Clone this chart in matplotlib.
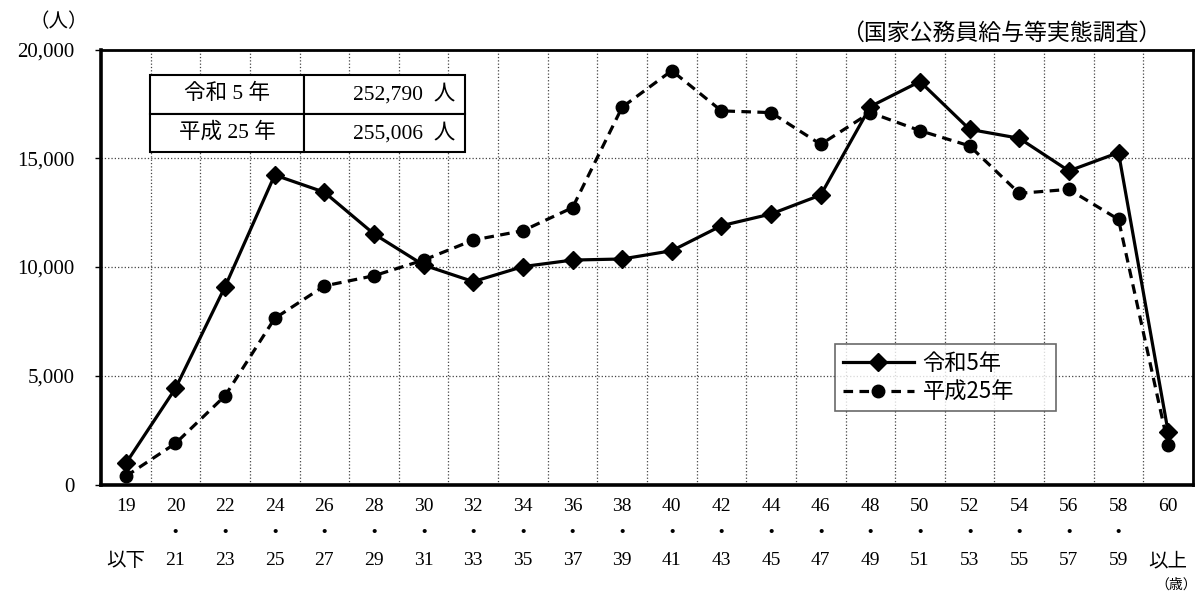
import numpy as np
import matplotlib.pyplot as plt
from matplotlib.ticker import FixedLocator

plt.rcParams['font.family'] = ['Liberation Serif', 'Noto Sans CJK JP']

# age groups
age_labels = ['19\n\n以下', '20\n・\n21', '22\n・\n23', '24\n・\n25', '26\n・\n27',
              '28\n・\n29', '30\n・\n31', '32\n・\n33', '34\n・\n35', '36\n・\n37',
              '38\n・\n39', '40\n・\n41', '42\n・\n43', '44\n・\n45', '46\n・\n47',
              '48\n・\n49', '50\n・\n51', '52\n・\n53', '54\n・\n55', '56\n・\n57',
              '58\n・\n59', '60\n\n以上']

# 令和5年
reiwa5 = [970, 4420, 9100, 14230, 13440, 11520, 10090, 9330, 10020, 10320, 10370,
          10750, 11900, 12440, 13310, 17380, 18530, 16330, 15920, 14420, 15260, 2420]
# 平成25年
heisei25 = [380, 1890, 4080, 7640, 9130, 9600, 10320, 11240, 11670, 12730, 17350,
            19030, 17180, 17100, 15640, 17100, 16270, 15570, 13390, 13570, 12190, 1810]

table_rows = [['令和 5 年', '252,790  人'], ['平成 25 年', '255,006  人']]

fig = plt.figure(figsize=(12.01, 5.94), dpi=100)
ax = fig.add_axes([0.0841, 0.1843, 0.9092, 0.7323])

x = np.arange(len(age_labels))
ax.plot(x, reiwa5, color='black', lw=2.3, marker='D', markersize=9,
        label='令和5年', zorder=4)
ax.plot(x, heisei25, color='black', lw=2.3, linestyle=(0, (3, 2)), marker='o',
        markersize=9, label='平成25年', zorder=3)

ax.set_xlim(-0.5, len(age_labels) - 0.5)
ax.set_ylim(0, 20000)

# y axis
yticks = [0, 5000, 10000, 15000, 20000]
ax.set_yticks(yticks)
ax.set_yticklabels([f'{v:,}' for v in yticks], fontsize=15)
ax.tick_params(axis='y', length=4, width=1, pad=15)

# x axis (labels at centers, grid at boundaries)
ax.set_xticks(x)
ax.set_xticklabels(age_labels, fontsize=14, linespacing=1.75, va='top')
ax.tick_params(axis='x', which='major', length=0, pad=10)
ax.xaxis.set_minor_locator(FixedLocator(np.arange(0.5, len(age_labels) - 1, 1)))
ax.tick_params(axis='x', which='minor', length=0)

ax.grid(axis='y', which='major', linestyle=':', color='#444444', lw=0.9)
ax.grid(axis='x', which='minor', linestyle=':', color='#444444', lw=0.9)
ax.set_axisbelow(True)

for side in ['top', 'right']:
    ax.spines[side].set_linewidth(2)
for side in ['left', 'bottom']:
    ax.spines[side].set_linewidth(2.6)

# totals table
tbl = ax.table(cellText=table_rows, colWidths=[0.49, 0.51], cellLoc='center',
               bbox=[0.0449, 0.7644, 0.2885, 0.177], zorder=6)
tbl.auto_set_font_size(False)
for (r, c), cell in tbl.get_celld().items():
    cell.set_linewidth(1.5)
    cell.set_facecolor('white')
    cell.get_text().set_fontsize(15.5)
    if c == 1:
        cell.get_text().set_ha('right')
        cell._loc = 'right'
        cell.PAD = 0.06

leg = ax.legend(loc='upper left', bbox_to_anchor=(0.672, 0.162, 0.203, 0.161),
                mode='expand', handlelength=3.2, frameon=True, fancybox=False,
                borderpad=0.35, labelspacing=0.25, handletextpad=0.4,
                borderaxespad=0, prop={'family': 'Noto Sans CJK JP', 'size': 16})
leg.get_frame().set_edgecolor('#444444')
leg.get_frame().set_linewidth(1.2)

fig.text(0.049, 0.963, '（人）', fontsize=14, ha='center', va='center')
fig.text(0.967, 0.944, '（国家公務員給与等実態調査）', fontsize=16.5, ha='right',
         va='center', family='Noto Sans CJK JP')
fig.text(0.997, 0.004, '（歳）', fontsize=10, ha='right', va='bottom')

fig.savefig('out.png', dpi=100)
